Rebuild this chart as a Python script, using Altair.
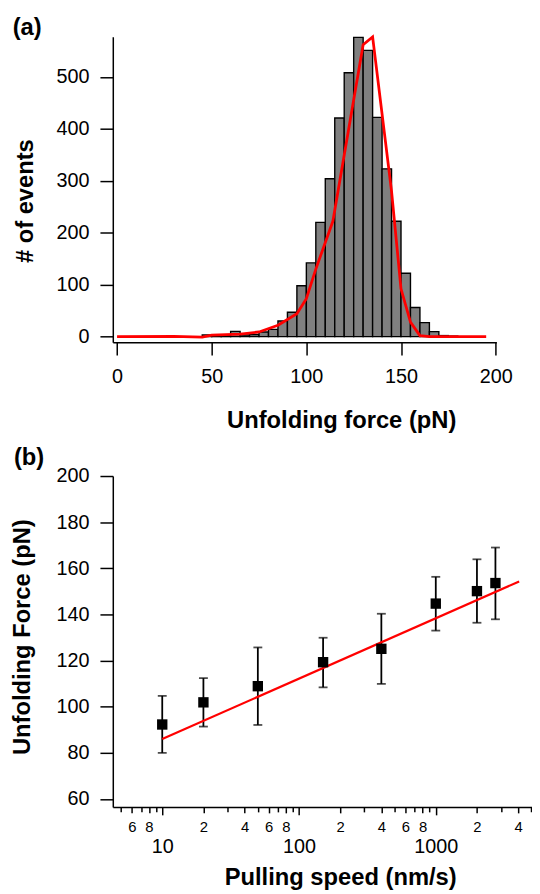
import altair as alt
import pandas as pd

FONT = "Liberation Sans"

# ---------------- Panel (a): histogram of unfolding forces ----------------
bin_start = [45, 50, 55, 60, 65, 70, 75, 80, 85, 90, 95, 100, 105, 110, 115,
             120, 125, 130, 135, 140, 145, 150, 155, 160, 165, 170, 175]
bin_end = [50, 55, 60, 65, 70, 75, 80, 85, 90, 95, 100, 105, 110, 115, 120,
           125, 130, 135, 140, 145, 150, 155, 160, 165, 170, 175, 180]
counts = [3, 2, 2, 10, 3, 4, 9, 14, 30, 47, 98, 142, 220, 304, 421,
          508, 576, 551, 422, 323, 222, 122, 56, 27, 9.5, 2, 1]

fit_a_force = [0, 30, 45, 50, 65, 75, 85, 95, 100, 105, 114, 130, 135, 145,
               150, 155, 160, 165, 195]
fit_a_count = [0, 0.5, -1, 3, 5, 9, 22, 44, 73, 130, 222, 562, 577, 280,
               92, 28, 2, 0, 0]

a_xticks = [0, 50, 100, 150, 200]
a_yticks = [0, 100, 200, 300, 400, 500]

# ---------------- Panel (b): force vs pulling speed ----------------
speed = [10, 20, 50, 150, 400, 1000, 2000, 2730]
force = [92.3, 101.9, 108.9, 119.3, 125.1, 144.7, 150.1, 153.6]
err_hi = [104.7, 112.4, 125.7, 129.9, 140.3, 156.3, 163.9, 169.0]
err_lo = [80.0, 91.4, 92.1, 108.4, 109.9, 133.0, 136.4, 137.9]

fit_b_speed = [10, 4070]
fit_b_force = [86.0, 154.3]

b_yticks = [60, 80, 100, 120, 140, 160, 180, 200]
b_major = [10, 100, 1000]
b_minor_labeled = [6, 8, 20, 40, 60, 80, 200, 400, 600, 800, 2000, 4000]
b_minor_plain = [5, 7, 9, 30, 50, 70, 90, 300, 500, 700, 900, 3000, 5000]

panel_labels = ["(a)", "(b)"]

# ---------------- data frames ----------------
hist_df = pd.DataFrame({"start": bin_start, "end": bin_end, "count": counts})
fit_a_df = pd.DataFrame({"force": fit_a_force, "count": fit_a_count})
pts_df = pd.DataFrame({"speed": speed, "force": force, "hi": err_hi, "lo": err_lo})
caps_df = pd.DataFrame({"speed": speed + speed, "val": err_hi + err_lo})
fit_b_df = pd.DataFrame({"speed": fit_b_speed, "force": fit_b_force})
lab_a_df = pd.DataFrame({"label": [panel_labels[0]]})
lab_b_df = pd.DataFrame({"label": [panel_labels[1]]})


def panel_label(df, dx, dy):
    return alt.Chart(df).mark_text(
        font=FONT, fontSize=24, fontWeight="bold", color="black",
        align="left", baseline="alphabetic",
    ).encode(text="label:N", x=alt.value(dx), y=alt.value(dy))


# ---------------- panel (a) ----------------
xa = alt.Scale(domain=[-2.25, 200.4], nice=False, zero=False)
ya = alt.Scale(domain=[-10.85, 577.3], nice=False, zero=False)

xa_axis = alt.Axis(values=a_xticks, title="Unfolding force (pN)", tickSize=13,
                   labelFontSize=20, labelPadding=11.5, labelFlush=False,
                   titleX=231, titleY=86, titleBaseline="alphabetic",
                   titleAlign="center", titleAnchor="middle")
ya_axis = alt.Axis(values=a_yticks, title="# of events", tickSize=13,
                   labelFontSize=20, labelPadding=11, labelFlush=False,
                   titleX=-81, titleY=165.8, titleAngle=270,
                   titleBaseline="alphabetic", titleAlign="center")

bars = alt.Chart(hist_df).mark_bar(color="#808080", stroke="black",
                                   strokeWidth=1.4).encode(
    x=alt.X("start:Q", scale=xa, axis=xa_axis),
    x2="end:Q",
    y=alt.Y("count:Q", scale=ya, axis=ya_axis),
    y2=alt.datum(0),
)
fit_a = alt.Chart(fit_a_df).mark_line(color="#ff0000", strokeWidth=2.8).encode(
    x=alt.X("force:Q", scale=xa, axis=xa_axis),
    y=alt.Y("count:Q", scale=ya, axis=ya_axis),
)
panel_a = alt.layer(bars, fit_a, panel_label(lab_a_df, -101.3, -1.7)).properties(
    width=388, height=309,
)

# ---------------- panel (b) ----------------
def xb():
    return alt.Scale(type="log", domain=[4.35, 5053], nice=False)

yb = alt.Scale(domain=[56.57, 200], nice=False, zero=False)
yb_axis = alt.Axis(values=b_yticks, title="Unfolding Force (pN)", tickSize=13,
                   labelFontSize=20, labelPadding=11, labelFlush=False,
                   titleX=-84, titleY=162.5, titleAngle=270,
                   titleBaseline="alphabetic", titleAlign="center")

ax_plain = alt.Axis(values=b_minor_plain, orient="bottom", tickSize=5,
                    labels=False, title=None)
ax_minor = alt.Axis(values=b_minor_labeled, orient="bottom", tickSize=6,
                    labelFontSize=15, labelPadding=7.2, labelFlush=False,
                    labelExpr="substring(toString(datum.value), 0, 1)",
                    title=None, domain=False)
ax_major = alt.Axis(values=b_major, orient="bottom", tickSize=8,
                    labelFontSize=20, labelPadding=22.5, labelFlush=False,
                    labelExpr="toString(datum.value)", domain=False,
                    title="Pulling speed (nm/s)", titleX=230, titleY=78.3,
                    titleBaseline="alphabetic", titleAlign="center")

err_rules = alt.Chart(pts_df).mark_rule(color="black", strokeWidth=1.8).encode(
    x=alt.X("speed:Q", scale=xb(), axis=ax_plain),
    y=alt.Y("lo:Q", scale=yb, axis=yb_axis),
    y2="hi:Q",
)
caps = alt.Chart(caps_df).mark_tick(color="black", orient="horizontal",
                                    size=9, thickness=1.8).encode(
    x=alt.X("speed:Q", scale=xb(), axis=ax_minor),
    y=alt.Y("val:Q", scale=yb, axis=yb_axis),
)
squares = alt.Chart(pts_df).mark_square(color="black", size=110,
                                        opacity=1).encode(
    x=alt.X("speed:Q", scale=xb(), axis=ax_major),
    y=alt.Y("force:Q", scale=yb, axis=yb_axis),
)
fit_b = alt.Chart(fit_b_df).mark_line(color="#ff0000", strokeWidth=2.2).encode(
    x=alt.X("speed:Q", scale=xb(), axis=None),
    y=alt.Y("force:Q", scale=yb, axis=yb_axis),
)
panel_b = alt.layer(err_rules, caps, fit_b, squares,
                    panel_label(lab_b_df, -100, -11)).resolve_scale(
    x="independent").properties(width=424, height=334.7)

chart = alt.vconcat(panel_a, panel_b, spacing=135.3, bounds="flush").properties(
    padding={"left": 3, "top": 3, "right": 0, "bottom": 0},
).configure_view(stroke=None).configure_axis(
    domainColor="black", domainWidth=1.5, tickColor="black", tickWidth=1.5,
    labelFont=FONT, labelColor="black", titleFont=FONT, titleColor="black",
    titleFontWeight="bold", titleFontSize=24, grid=False,
)

chart.save("out.html", embed_options={"renderer": "svg", "actions": False})
